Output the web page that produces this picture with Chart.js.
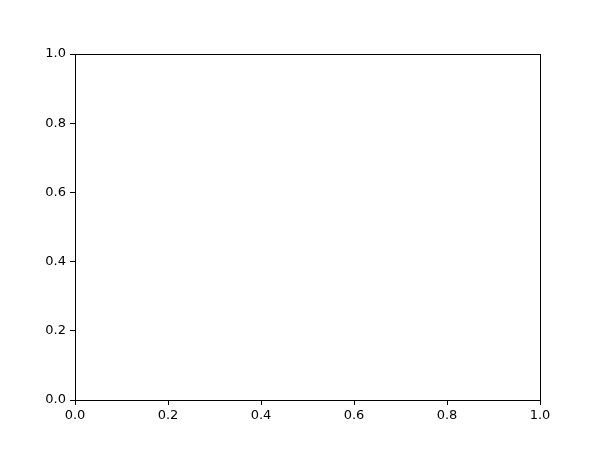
<!DOCTYPE html>
<html><head><meta charset="utf-8">
<script src="https://cdn.jsdelivr.net/npm/chart.js@4"></script>
<style>html,body{margin:0;padding:0;background:#fff;}canvas{display:block;}</style>
</head><body>
<canvas id="c" width="600" height="450" style="width:600px;height:450px"></canvas>
<script>
// Empty axes: no series data
const xValues = [];
const yValues = [];
const xTickLabels = ["0.0","0.2","0.4","0.6","0.8","1.0"];
const yTickLabels = ["0.0","0.2","0.4","0.6","0.8","1.0"];
const tickValues = [0, 0.2, 0.4, 0.6, 0.8, 1.0];

const points = xValues.map((x, i) => ({x: x, y: yValues[i]}));

const frame = {
  id: 'frame',
  afterDraw(chart) {
    const a = chart.chartArea, ctx = chart.ctx;
    ctx.save();
    ctx.strokeStyle = '#000';
    ctx.lineWidth = 1;
    ctx.strokeRect(Math.round(a.left) + 0.5, Math.round(a.top) + 0.5,
                   Math.round(a.right - a.left), Math.round(a.bottom - a.top));
    ctx.restore();
  }
};

const font = {family: 'DejaVu Sans', size: 13};
new Chart(document.getElementById('c'), {
  type: 'scatter',
  data: {datasets: [{data: points, pointRadius: 0}]},
  options: {
    responsive: false,
    animation: false,
    devicePixelRatio: 1,
    layout: {padding: {left: 0, right: 60, top: 54, bottom: 0}},
    plugins: {legend: {display: false}, tooltip: {enabled: false}},
    scales: {
      x: {
        type: 'linear', min: 0, max: 1,
        afterFit(s) { s.height = 50; },
        afterBuildTicks(s) { s.ticks = tickValues.map(v => ({value: v})); },
        ticks: {font, color: '#000', padding: 3, maxRotation: 0,
                callback: (v, i) => xTickLabels[i]},
        grid: {drawOnChartArea: false, tickLength: 5, color: '#000'},
        border: {display: true, color: '#000'}
      },
      y: {
        type: 'linear', min: 0, max: 1,
        afterFit(s) { s.width = 75; },
        afterBuildTicks(s) { s.ticks = tickValues.map(v => ({value: v})); },
        ticks: {font, color: '#000', padding: 4,
                callback: (v, i) => yTickLabels[i]},
        grid: {drawOnChartArea: false, tickLength: 5, color: '#000'},
        border: {display: true, color: '#000'}
      }
    }
  },
  plugins: [frame]
});
</script>
</body></html>
